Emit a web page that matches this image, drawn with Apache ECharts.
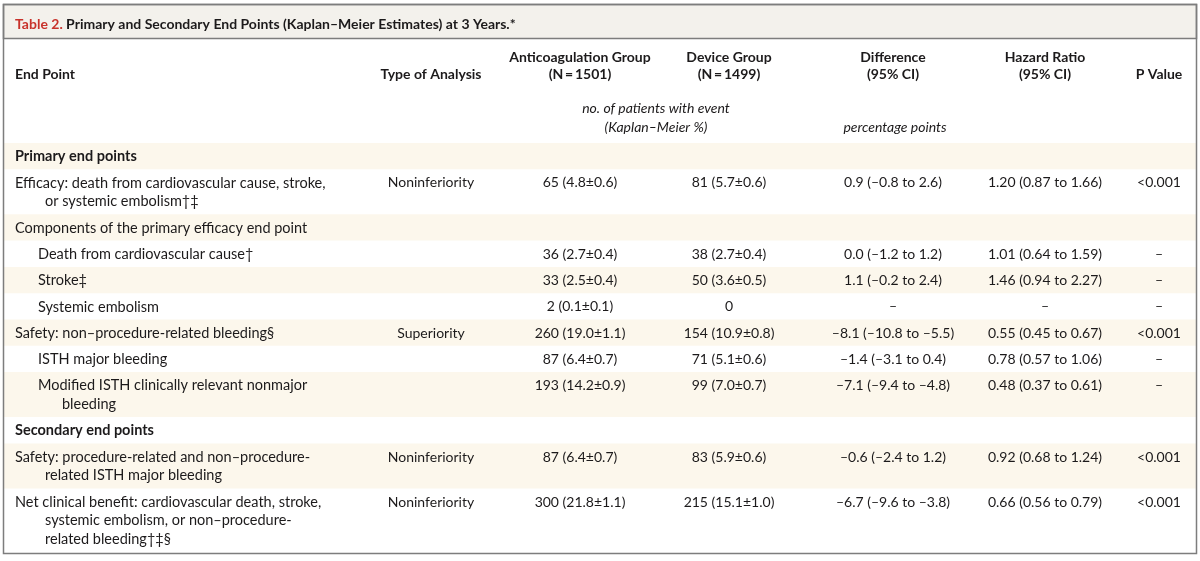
<!DOCTYPE html>
<html>
<head>
<meta charset="utf-8">
<script src="https://cdn.jsdelivr.net/npm/echarts@6/dist/echarts.min.js"></script>
<style>
  html, body { margin: 0; background: #fff; }
  #main { width: 1200px; height: 561px; }
</style>
</head>
<body>
<div id="main"></div>
<script>
// table content, one entry per row
const endPoints = [
  ['Primary end points'],
  ['Efficacy: death from cardiovascular cause, stroke,', 'or systemic embolism†‡'],
  ['Components of the primary efficacy end point'],
  ['Death from cardiovascular cause†'],
  ['Stroke‡'],
  ['Systemic embolism'],
  ['Safety: non–procedure-related bleeding§'],
  ['ISTH major bleeding'],
  ['Modified ISTH clinically relevant nonmajor', 'bleeding'],
  ['Secondary end points'],
  ['Safety: procedure-related and non–procedure-', 'related ISTH major bleeding'],
  ['Net clinical benefit: cardiovascular death, stroke,', 'systemic embolism, or non–procedure-', 'related bleeding†‡§']
];
const rowKinds = ['section', 'main', 'main', 'sub', 'sub', 'sub', 'main', 'sub', 'sub', 'section', 'main', 'main'];
const analysisTypes = ['', 'Noninferiority', '', '', '', '', 'Superiority', '', '', '', 'Noninferiority', 'Noninferiority'];
const anticoagulation = ['', '65 (4.8±0.6)', '', '36 (2.7±0.4)', '33 (2.5±0.4)', '2 (0.1±0.1)', '260 (19.0±1.1)', '87 (6.4±0.7)', '193 (14.2±0.9)', '', '87 (6.4±0.7)', '300 (21.8±1.1)'];
const device = ['', '81 (5.7±0.6)', '', '38 (2.7±0.4)', '50 (3.6±0.5)', '0', '154 (10.9±0.8)', '71 (5.1±0.6)', '99 (7.0±0.7)', '', '83 (5.9±0.6)', '215 (15.1±1.0)'];
const differences = ['', '0.9 (–0.8 to 2.6)', '', '0.0 (–1.2 to 1.2)', '1.1 (–0.2 to 2.4)', '–', '–8.1 (–10.8 to –5.5)', '–1.4 (–3.1 to 0.4)', '–7.1 (–9.4 to –4.8)', '', '–0.6 (–2.4 to 1.2)', '–6.7 (–9.6 to –3.8)'];
const hazardRatios = ['', '1.20 (0.87 to 1.66)', '', '1.01 (0.64 to 1.59)', '1.46 (0.94 to 2.27)', '–', '0.55 (0.45 to 0.67)', '0.78 (0.57 to 1.06)', '0.48 (0.37 to 0.61)', '', '0.92 (0.68 to 1.24)', '0.66 (0.56 to 0.79)'];
const pValues = ['', '<0.001', '', '–', '–', '–', '<0.001', '–', '–', '', '<0.001', '<0.001'];

const columnHeads = [
  ['End Point'],
  ['Type of Analysis'],
  ['Anticoagulation Group', '(N\u2009=\u20091501)'],
  ['Device Group', '(N\u2009=\u20091499)'],
  ['Difference', '(95% CI)'],
  ['Hazard Ratio', '(95% CI)'],
  ['P Value']
];
const unitNotes = [
  ['no. of patients with event', '(Kaplan–Meier %)'],
  ['percentage points']
];
const titleText = 'Primary and Secondary End Points (Kaplan–Meier Estimates) at 3 Years.*';

// layout
const W = 1200, H = 561;
const colX = [15, 431, 580, 729, 893, 1045, 1159];
const noteX = [656, 895];
const bodyTop = 143, lineH = 18.7, rowPad = 7.6;
const textColor = '#1c1a1b';

function font(bold, italic, size) {
  return (italic ? 'italic ' : '') + (bold ? 'bold ' : '') + (size || 14) + 'px Lato, sans-serif';
}

const cells = [];
const bands = [];

columnHeads.forEach((lines, c) => {
  const start = lines.length === 1 ? 74 : 57;
  lines.forEach((t, k) => cells.push({ x: colX[c], y: start + k * 17.5, text: t, align: c === 0 ? 'left' : 'center', bold: true }));
});
unitNotes.forEach((lines, c) => {
  const start = lines.length === 1 ? 127 : 108;
  lines.forEach((t, k) => cells.push({ x: noteX[c], y: start + k * 19, text: t, align: 'center', italic: true }));
});

let rowTop = bodyTop;
endPoints.forEach((lines, r) => {
  const h = rowPad + lineH * lines.length;
  bands.push([rowTop, rowTop + h, r % 2 === 0 ? 1 : 0]);
  const y0 = rowTop + rowPad / 2 + lineH / 2 + 0.5;
  const kind = rowKinds[r];
  lines.forEach((t, k) => {
    let x = 15;
    if (kind === 'sub') x = k === 0 ? 38 : 62;
    else if (k > 0) x = 45;
    cells.push({ x, y: y0 + k * lineH, text: t, align: 'left', bold: kind === 'section', size: 14.5 });
  });
  [analysisTypes, anticoagulation, device, differences, hazardRatios, pValues].forEach((col, c) => {
    if (col[r]) cells.push({ x: colX[c + 1], y: y0, text: col[r], align: 'center' });
  });
  rowTop += h;
});

const chart = echarts.init(document.getElementById('main'));
chart.setOption({
  animation: false,
  backgroundColor: '#fff',
  title: {
    text: '{r|Table 2.} ' + titleText,
    left: 10,
    top: 12,
    textStyle: {
      fontFamily: 'Lato',
      fontSize: 14,
      fontWeight: 'bold',
      color: textColor,
      rich: { r: { color: '#c8322b', fontFamily: 'Lato', fontSize: 14, fontWeight: 'bold' } }
    }
  },
  grid: { left: 0, right: 0, top: 0, bottom: 0 },
  xAxis: { type: 'value', min: 0, max: W, show: false },
  yAxis: { type: 'value', min: 0, max: H, inverse: true, show: false },
  graphic: [
    { type: 'rect', shape: { x: 3.5, y: 4.5, width: 1193, height: 34 }, style: { fill: '#f3f1ec', stroke: '#7d7d7d', lineWidth: 1.5 }, z: -1 },
    { type: 'rect', shape: { x: 3.5, y: 4.5, width: 1193, height: 549 }, style: { fill: 'none', stroke: '#7d7d7d', lineWidth: 1.5 }, z: 10 }
  ],
  series: [
    {
      type: 'custom',
      silent: true,
      encode: { y: [0, 1] },
      data: bands,
      renderItem(params, api) {
        if (!api.value(2)) return null;
        const p1 = api.coord([4, api.value(0)]);
        const p2 = api.coord([1196, api.value(1)]);
        return { type: 'rect', shape: { x: p1[0], y: p1[1], width: p2[0] - p1[0], height: p2[1] - p1[1] }, style: { fill: '#fcf7ec' } };
      }
    },
    {
      type: 'custom',
      silent: true,
      encode: { x: 0, y: 1 },
      data: cells.map(c => [c.x, c.y]),
      renderItem(params, api) {
        const c = cells[params.dataIndex];
        const p = api.coord([api.value(0), api.value(1)]);
        return {
          type: 'text',
          x: p[0],
          y: p[1],
          style: { text: c.text, fill: textColor, font: font(c.bold, c.italic, c.size), align: c.align, verticalAlign: 'middle' }
        };
      }
    }
  ]
});
</script>
</body>
</html>
